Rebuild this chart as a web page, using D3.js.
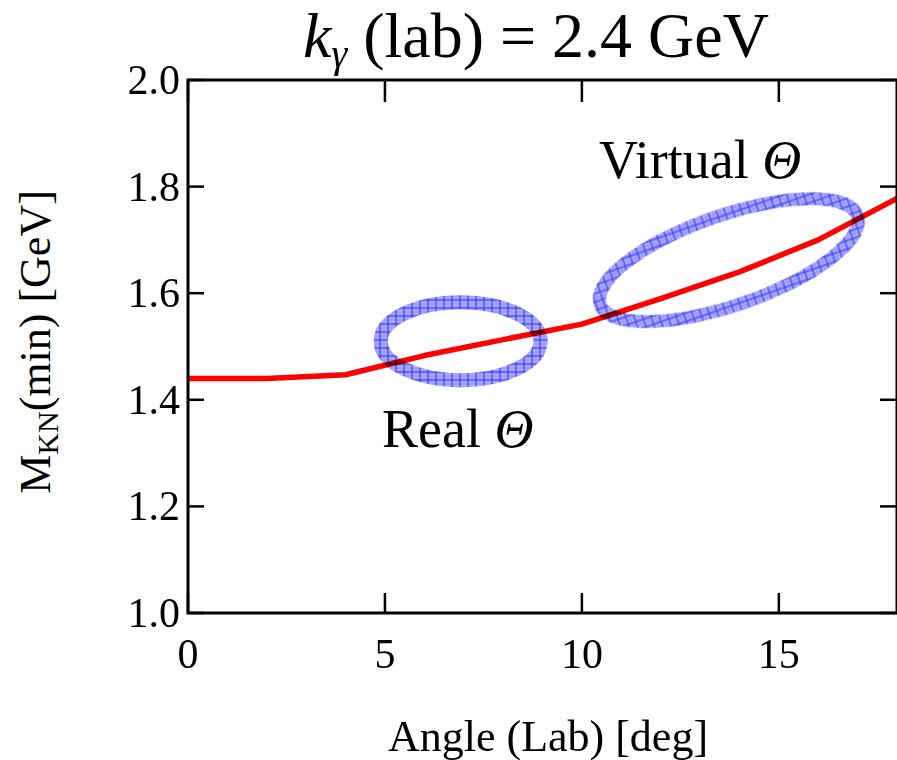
<!DOCTYPE html>
<html>
<head>
<meta charset="utf-8">
<script src="https://cdn.jsdelivr.net/npm/d3@7"></script>
<style>
  html, body { margin: 0; padding: 0; background: #fff; overflow: hidden; }
  svg { display: block; }
  text { font-family: "Liberation Serif", "Times New Roman", serif; fill: #000; }
</style>
</head>
<body>
<svg id="chart" width="897" height="760"></svg>
<script>
// Minimum K-N invariant mass versus lab angle, photon energy 2.4 GeV
const angles = [0, 2, 4, 6, 8, 10, 12, 14, 16, 18];
const massMin = [1.440, 1.440, 1.447, 1.483, 1.513, 1.542, 1.590, 1.640, 1.700, 1.778];

const xTicks = [0, 5, 10, 15];
const yTicks = [1.0, 1.2, 1.4, 1.6, 1.8, 2.0];

// Highlighted regions: centre (angle, mass)
const regionNames = ["Real", "Virtual"];
const regionAngle = [6.92, 13.73];
const regionMass = [1.510, 1.662];

const svg = d3.select("#chart");
const margin = { left: 188, top: 80 };
const plotW = 709, plotH = 533;

const x = d3.scaleLinear().domain([0, 18]).range([margin.left, margin.left + plotW]);
const y = d3.scaleLinear().domain([1.0, 2.0]).range([margin.top + plotH, margin.top]);

// Hatched fill used for the ellipses
const defs = svg.append("defs");
const pat = defs.append("pattern")
  .attr("id", "hatch").attr("patternUnits", "userSpaceOnUse")
  .attr("width", 8).attr("height", 8);
pat.append("rect").attr("width", 8).attr("height", 8).attr("fill", "rgba(100,100,255,0.65)");
pat.append("path").attr("d", "M4,0V8M0,4H8")
  .attr("stroke", "rgba(30,30,240,0.75)").attr("stroke-width", 1);
[[1, 1], [6, 6], [1, 6], [6, 1]].forEach(([px, py]) => {
  pat.append("rect").attr("x", px).attr("y", py).attr("width", 1).attr("height", 1)
    .attr("fill", "rgba(255,255,255,0.6)");
});

// Curve
const line = d3.line().x((d, i) => x(angles[i])).y(d => y(d));
svg.append("path")
  .datum(massMin)
  .attr("d", line)
  .attr("fill", "none")
  .attr("stroke", "#ff0000")
  .attr("stroke-width", 5.5)
  .attr("stroke-linejoin", "round");

// Ellipses around the two regions
const ellG = svg.append("g").style("mix-blend-mode", "multiply");
ellG.append("ellipse")
  .attr("cx", x(regionAngle[0])).attr("cy", y(regionMass[0]))
  .attr("rx", 80).attr("ry", 39)
  .attr("fill", "none").attr("stroke", "url(#hatch)").attr("stroke-width", 14);
ellG.append("ellipse")
  .attr("cx", 0).attr("cy", 0)
  .attr("rx", 136).attr("ry", 45)
  .attr("transform", `translate(${x(regionAngle[1])},${y(regionMass[1])}) rotate(-19)`)
  .attr("fill", "none").attr("stroke", "url(#hatch)").attr("stroke-width", 13);

// Frame and ticks
const axisColor = "#000";
const frame = svg.append("g");
frame.append("rect")
  .attr("x", margin.left).attr("y", margin.top)
  .attr("width", plotW).attr("height", plotH)
  .attr("fill", "none").attr("stroke", axisColor).attr("stroke-width", 3);

const bottom = margin.top + plotH, right = margin.left + plotW;
xTicks.forEach(t => {
  frame.append("line").attr("x1", x(t)).attr("x2", x(t))
    .attr("y1", bottom).attr("y2", bottom - 20)
    .attr("stroke", axisColor).attr("stroke-width", 2.5);
  frame.append("line").attr("x1", x(t)).attr("x2", x(t))
    .attr("y1", margin.top).attr("y2", margin.top + 22)
    .attr("stroke", axisColor).attr("stroke-width", 2.5);
  svg.append("text").attr("x", x(t)).attr("y", bottom + 55)
    .attr("text-anchor", "middle").attr("font-size", 42).text(t);
});
yTicks.forEach(t => {
  frame.append("line").attr("x1", margin.left).attr("x2", margin.left + 16)
    .attr("y1", y(t)).attr("y2", y(t))
    .attr("stroke", axisColor).attr("stroke-width", 2.5);
  frame.append("line").attr("x1", right).attr("x2", right - 17)
    .attr("y1", y(t)).attr("y2", y(t))
    .attr("stroke", axisColor).attr("stroke-width", 2.5);
  svg.append("text").attr("x", margin.left - 8).attr("y", y(t) + 14)
    .attr("text-anchor", "end").attr("font-size", 42).text(t.toFixed(1));
});

// Region labels
const realLbl = svg.append("text").attr("x", 382).attr("y", 447).attr("font-size", 54);
realLbl.append("tspan").text(regionNames[0] + " ");
realLbl.append("tspan").attr("font-style", "italic").text("Θ");
const virtLbl = svg.append("text").attr("x", 599).attr("y", 178).attr("font-size", 54);
virtLbl.append("tspan").text(regionNames[1] + " ");
virtLbl.append("tspan").attr("font-style", "italic").text("Θ");

// Title
const title = svg.append("text").attr("x", 536).attr("y", 57)
  .attr("text-anchor", "middle").attr("font-size", 64);
title.append("tspan").attr("font-style", "italic").text("k");
title.append("tspan").attr("font-style", "italic").attr("font-size", 40).attr("dy", 10).text("γ");
title.append("tspan").attr("dy", -10).text(" (lab) = 2.4 GeV");

// Axis titles
svg.append("text").attr("x", 548).attr("y", 751)
  .attr("text-anchor", "middle").attr("font-size", 44).text("Angle (Lab) [deg]");

const yt = svg.append("text")
  .attr("transform", "translate(50,342) rotate(-90)")
  .attr("text-anchor", "middle").attr("font-size", 44);
yt.append("tspan").text("M");
yt.append("tspan").attr("font-size", 30).attr("dy", 8).text("KN");
yt.append("tspan").attr("dy", -8).text("(min) [GeV]");
</script>
</body>
</html>
